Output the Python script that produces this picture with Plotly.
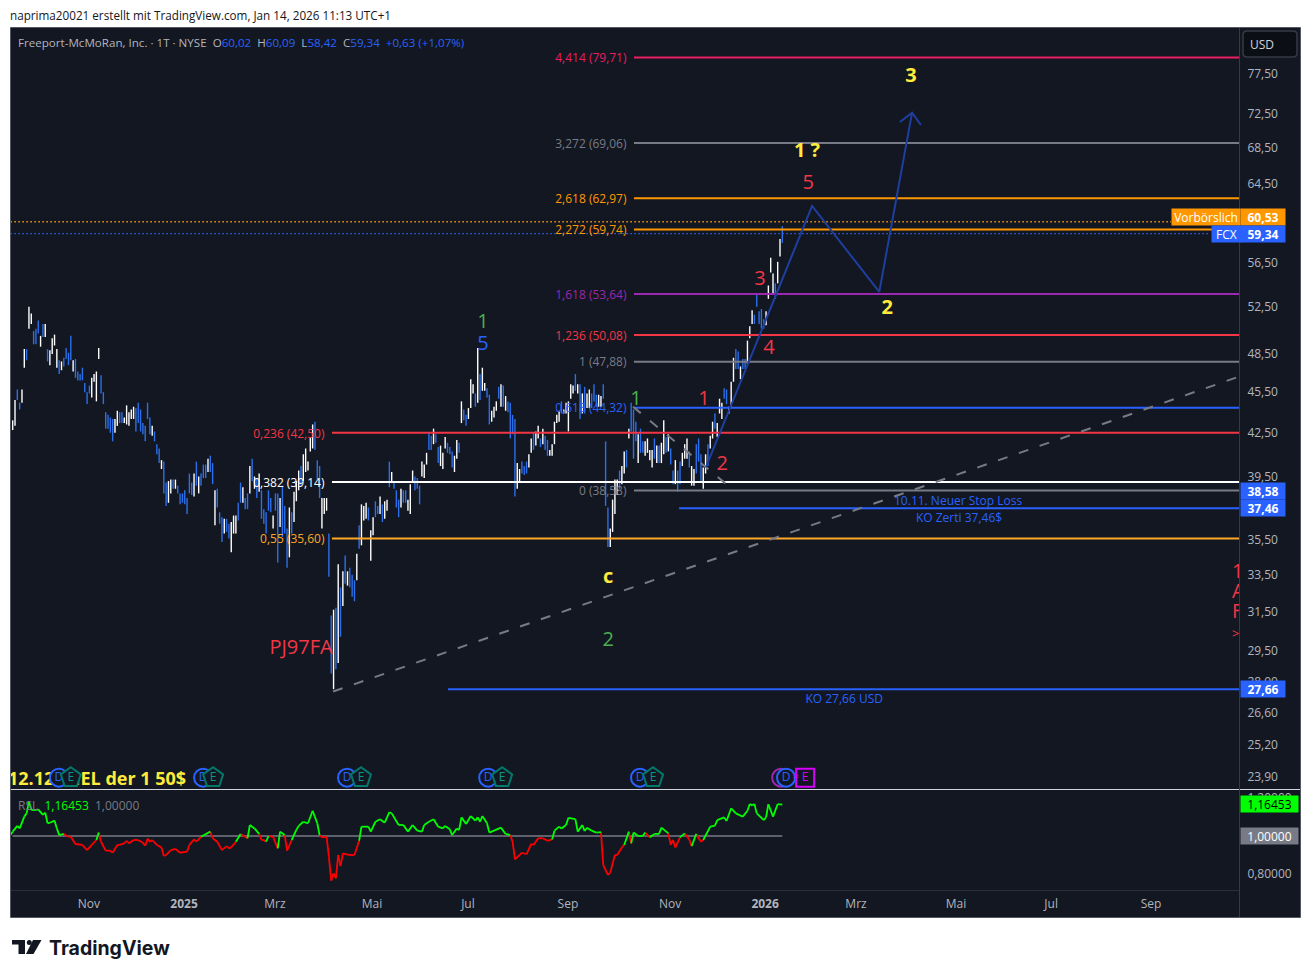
import math
import plotly.graph_objects as go

# ---------- daily bars (high / low / white=1, blue=0) ----------
bar_high = [
 43.4,44.9,45.7,44.7,45.7,48.9,48.9,52.5,51.9,50.4,
 50.6,51.3,50.0,51.0,51.0,48.9,48.8,49.8,50.1,48.9,
 48.0,47.9,48.2,49.0,48.6,50.0,48.0,48.1,47.1,46.9,
 47.4,46.2,45.5,46.0,46.6,46.9,47.1,49.0,46.8,45.5,
 44.0,43.8,43.6,43.5,43.5,44.1,44.0,44.0,43.6,44.5,
 44.0,44.2,44.4,44.3,44.7,44.2,43.2,43.0,44.7,43.6,
 43.0,42.6,41.7,41.4,40.6,40.5,39.1,39.2,39.3,39.3,
 39.3,38.9,38.4,38.4,38.6,38.1,39.7,39.1,39.7,40.5,
 39.5,39.7,40.3,40.3,40.7,40.9,40.4,38.6,38.7,37.2,
 36.9,36.8,36.8,36.5,36.6,37.0,37.0,37.8,39.1,38.8,
 38.1,38.4,40.2,40.7,39.5,39.4,39.7,38.6,37.4,37.2,
 38.6,38.1,37.0,38.4,38.4,38.1,38.9,37.6,36.2,37.5,
 37.2,38.5,39.2,39.9,40.2,41.0,41.4,40.5,42.2,43.1,
 43.3,40.6,40.2,38.1,38.1,38.1,35.9,
 31.3,31.6,31.7,34.1,32.8,33.7,34.6,33.7,33.9,33.5,33.2,34.7,
 36.4,37.7,37.6,37.8,37.5,36.1,36.9,37.9,37.6,38.2,
 37.7,37.9,38.0,40.5,39.8,39.1,38.6,38.0,38.7,38.6,
 38.6,38.0,39.0,39.9,39.5,39.4,38.9,40.5,40.3,41.1,
 42.5,42.3,42.8,42.4,41.5,41.6,41.1,42.2,41.8,41.5,
 41.2,40.9,42.0,41.8,44.8,44.2,43.8,44.3,46.5,46.1,
 45.4,49.0,46.9,47.4,46.2,45.8,45.3,44.1,44.4,44.8,
 45.9,46.1,46.0,45.2,44.8,44.7,43.8,43.5,40.4,40.0,
 40.5,40.2,40.5,41.0,42.1,42.5,42.6,43.0,42.1,42.8,
 42.3,42.0,41.3,41.7,43.3,43.8,44.1,44.8,44.2,44.7,
 44.8,46.1,46.0,46.9,46.1,46.1,45.4,45.9,45.4,45.7,45.4,
 46.1,45.3,45.3,45.2,46.1,
 41.9,37.5,36.2,38.0,39.3,39.3,39.9,40.2,41.2,41.3,
 42.8,44.7,44.2,43.3,42.4,42.8,41.9,41.9,42.1,41.3,
 41.3,42.1,41.6,41.6,41.8,43.4,42.2,42.4,41.4,39.9,
 40.6,39.9,40.5,41.1,41.7,42.1,41.2,40.2,40.0,41.7,42.1,
 41.0,40.1,41.0,41.7,42.3,43.3,43.9,43.2,45.0,44.7,
 45.8,45.7,44.4,46.3,48.2,48.9,48.7,47.5,48.1,48.1,
 49.6,50.8,52.2,51.8,53.6,52.1,52.3,51.4,52.1,54.4,
 57.0,55.5,54.6,56.6,58.8,60.09,
]
bar_low = [
 42.7,43.0,44.9,44.2,44.7,47.4,48.0,50.6,51.0,49.3,
 49.3,50.2,49.1,49.9,49.9,47.9,47.6,48.5,49.2,47.4,
 46.9,47.2,47.5,48.1,47.6,48.0,47.1,46.6,46.4,46.4,
 46.4,45.5,44.6,45.4,45.1,46.3,44.8,48.1,45.4,44.6,
 42.8,42.8,42.5,41.9,42.5,43.0,43.2,43.2,43.2,43.1,
 43.0,43.5,43.5,42.6,43.2,42.6,42.4,41.9,43.5,42.4,
 42.3,41.9,41.0,40.4,40.0,38.4,37.6,37.8,38.4,38.7,
 38.7,38.4,37.7,37.8,37.7,37.1,38.4,38.3,38.2,38.9,
 38.4,38.9,39.4,39.4,39.8,39.8,39.0,36.4,37.5,36.5,
 35.4,35.9,36.0,35.6,34.8,35.9,35.9,36.7,37.8,37.8,
 37.4,37.4,38.4,39.2,38.7,38.1,38.5,36.8,36.5,35.9,
 37.3,37.2,36.2,37.3,34.2,36.3,35.7,35.9,33.9,34.5,
 35.9,36.6,37.9,38.6,38.9,39.2,39.8,39.9,41.2,41.4,
 41.3,39.3,38.1,36.2,37.1,37.3,33.4,
 28.4,27.66,28.6,28.9,30.2,31.8,33.0,32.9,32.8,32.3,32.05,33.2,
 35.0,35.2,36.7,36.8,36.7,34.3,35.8,36.9,37.1,37.1,
 36.6,36.8,37.3,38.8,39.1,38.7,37.5,36.9,37.5,37.8,
 37.8,37.3,37.1,39.1,38.6,38.7,37.7,39.5,39.4,40.3,
 41.3,41.3,41.7,41.8,40.4,40.2,40.0,41.4,41.1,41.0,
 40.1,39.8,40.7,41.1,43.2,43.4,43.0,43.5,44.3,45.4,
 44.4,44.7,44.9,45.6,45.6,45.1,43.1,43.3,43.6,44.1,
 45.0,44.4,44.4,44.1,44.0,42.1,42.4,38.2,38.7,39.2,
 39.7,39.6,39.7,40.1,41.1,41.3,41.6,42.1,41.5,41.7,
 41.3,40.9,40.9,40.9,41.7,43.2,43.3,43.9,43.9,43.9,
 42.6,45.0,45.4,45.6,45.4,43.5,43.9,43.9,44.3,44.3,44.3,
 44.8,44.4,44.4,44.4,45.0,
 37.6,35.1,35.1,36.0,37.1,38.3,38.7,39.0,39.7,40.1,
 42.1,42.6,40.7,41.9,40.4,41.1,41.1,40.9,41.1,40.6,
 40.1,40.7,40.4,40.4,40.4,41.0,41.1,41.2,40.3,39.0,
 39.0,38.5,39.0,40.2,40.7,40.7,40.1,38.9,38.9,39.7,40.5,
 39.2,38.7,39.7,40.2,41.4,42.1,42.8,42.2,43.9,43.5,
 45.0,44.6,43.9,44.3,46.3,47.3,47.3,46.5,47.3,47.3,
 47.7,49.8,51.0,51.0,52.5,51.0,50.6,50.6,50.9,53.2,
 55.6,53.7,53.2,54.6,57.1,58.42,
]
bar_up = [
 1,1,0,0,1,1,0,1,1,0,
 0,0,1,0,1,0,1,1,1,1,
 0,1,0,0,0,0,1,0,0,0,
 0,0,0,0,1,1,1,1,0,0,
 0,0,0,0,1,1,0,0,1,1,
 1,1,1,0,0,0,0,0,0,0,
 1,0,0,0,1,0,0,1,1,0,
 1,0,0,0,0,0,0,0,1,0,
 1,0,0,0,1,0,0,1,0,0,
 0,1,0,0,1,1,1,0,0,1,
 0,0,1,0,1,0,1,0,0,0,
 0,0,1,0,0,1,0,0,0,1,
 0,1,1,1,0,1,1,1,1,1,
 0,0,0,1,1,1,0,
 0,1,0,1,0,1,0,1,0,0,0,1,
 0,1,1,1,0,1,1,0,0,1,
 0,1,1,0,1,0,0,0,1,0,
 0,1,1,1,0,0,0,1,1,1,
 0,0,1,0,0,1,1,1,0,0,
 0,1,1,0,1,0,0,1,1,1,
 0,1,0,1,1,0,0,1,1,1,
 0,1,0,1,0,0,0,0,1,1,
 0,0,0,1,1,0,1,1,0,1,
 0,0,1,1,1,1,1,0,1,1,
 1,1,1,0,1,0,1,0,1,1,0,
 0,0,1,1,0,
 0,0,1,1,1,1,0,1,1,0,
 1,0,0,0,1,0,0,1,1,1,
 1,0,1,0,1,1,0,1,0,0,
 1,0,0,1,1,1,0,1,1,0,0,
 0,1,1,0,1,1,0,1,1,1,
 0,0,1,1,1,0,0,1,0,0,
 1,1,1,0,0,0,0,0,1,1,
 1,1,0,1,1,0,
]
bar_index = list(range(len(bar_high)))

# ---------- RSL indicator ----------
rsl_bar = [-1,0,2,3,5,6,7,8,10,11,13,14,15,16,18,19,20,22,24,25,27,30,32,34,36,37,38,40,42,43,45,46,48,49,50,52,54,56,57,58,59,60,62,64,65,66,68,70,72,75,76,78,79,81,85,86,88,90,92,93,94,96,98,101,102,104,106,107,108,109,110,112,114,115,117,118,120,122,123,125,127,129,131,132,133,135,136,137,138,139,140,141,142,145,147,149,150,153,154,156,158,160,162,163,166,168,170,172,174,
 176,177,179,181,183,185,186,188,189,191,192,193,195,197,199,200,201,202,204,205,207,210,212,214,215,216,218,219,221,223,224,226,228,230,232,233,235,236,238,239,242,243,245,246,247,249,251,253,254,256,257,259,260,262,263,265,266,267,269,271,272,274,276,278,279,282,283,284,285,287,289,291,292,294,296,297,300,302,303,306,307,309,311,314,316,317,318,319,320,323,324,325,327,329,331]
rsl_value = [1.005,1.023,1.053,1.040,1.102,1.119,1.181,1.137,1.137,1.140,1.111,1.123,1.067,1.070,1.081,1.040,1.005,1.011,.996,.996,.958,.953,.926,.953,.979,1.018,.970,.923,.923,.912,.953,.953,.961,.975,.961,.979,.979,.965,.949,.986,.970,.979,.953,.940,.895,.900,.926,.932,.912,.918,.953,.982,.970,.996,1.023,.988,.970,.926,.947,.935,.940,.970,1.011,.988,1.058,1.040,1.011,.979,.979,.970,1.0,.996,.935,1.023,1.005,.923,.979,1.032,1.053,1.075,1.067,1.133,1.067,1.005,.993,.996,.891,.765,.804,.777,.900,.842,.909,.900,.900,.975,1.049,1.049,1.023,1.075,1.088,1.070,1.125,1.119,1.058,1.058,1.023,1.058,1.028,
 1.023,1.058,1.075,1.088,1.049,1.040,1.053,1.035,1.005,1.040,1.032,1.098,1.063,1.105,1.081,1.098,1.075,1.105,1.067,1.018,1.028,1.044,1.011,1.005,.970,.877,.900,.912,.904,.958,.953,.988,.988,.975,.982,1.028,1.049,1.040,1.058,1.096,1.089,1.023,1.058,1.026,1.044,1.028,1.018,1.021,.847,.795,.807,.900,.900,.940,.953,1.023,.961,1.018,1.0,1.0,1.018,.993,1.011,1.011,1.044,1.014,.953,.979,.939,.993,1.014,.982,.947,1.011,.970,.979,1.049,1.054,1.084,1.098,1.079,1.146,1.119,1.102,1.133,1.168,1.161,1.168,1.119,1.084,1.098,1.167,1.102,1.168,1.16453]

# ---------- Horizontal drawing levels ----------
level_name  = ["4,414 (79,71)","3,272 (69,06)","2,618 (62,97)","2,272 (59,74)","1,618 (53,64)","1,236 (50,08)","1 (47,88)","0,618 (44,32)","0,236 (42,50)","0,382 (39,14)","0,55 (35,60)","0 (38,58)"]
level_price = [79.71,69.06,62.97,59.74,53.64,50.08,47.88,44.32,42.50,39.14,35.60,38.58]
level_start = [267.2,267.2,267.2,267.2,267.2,267.2,267.2,267.2,137.3,137.3,137.3,267.2]
level_color = ["#e91e63","#787b86","#ff9800","#ff9800","#9c27b0","#f23645","#787b86","#2962ff","#f23645","#ffffff","#ffa726","#787b86"]
ko_price = [37.46,27.66]
ko_start = [286.6,187.2]
AXIS_END_BAR = 527.4

# Price / time ticks
price_ticks = [77.5,72.5,68.5,64.5,56.5,52.5,48.5,45.5,42.5,39.5,35.5,33.5,31.5,29.5,28.0,26.6,25.2,23.9]
price_tick_labels = ["77,50","72,50","68,50","64,50","56,50","52,50","48,50","45,50","42,50","39,50","35,50","33,50","31,50","29,50","28,00","26,60","25,20","23,90"]
time_ticks = [32.8,73.7,112.8,154.5,195.8,238.8,282.7,323.6,362.7,405.7,446.6,489.6]
time_tick_labels = ["Nov","<b>2025</b>","Mrz","Mai","Jul","Sep","Nov","<b>2026</b>","Mrz","Mai","Jul","Sep"]

# Wave path and trend lines
wave_bar = [298.2,343.8,372.7,386.8]
wave_price = [40.14,62.16,53.82,72.67]
arrow_bar = [381.6,386.8,390.6]
arrow_price = [71.55,72.67,71.19]
trend_bar = [137.8,527.4]
trend_price = [27.55,46.7]
trend2_bar = [266.8,307.7]
trend2_price = [44.4,38.9]

# Wave labels
wave_text = ["<b>3</b>","<b>1 ?</b>","5","3","4","1","2","1","<b>2</b>","1","5","<b>c</b>","2","PJ97FA"]
wave_text_bar = [386.3,341.6,342.1,321.4,325.3,297.3,305.1,268.1,376.1,202.3,202.3,256.1,256.1,124.0]
wave_text_price = [77.2,68.0,64.45,54.9,48.9,44.9,40.25,44.9,52.3,51.1,49.2,33.3,30.0,29.6]
wave_text_color = ["#ffeb3b","#ffeb3b","#f23645","#f23645","#f23645","#f23645","#f23645","#4caf50","#ffeb3b","#4caf50","#2962ff","#ffeb3b","#4caf50","#f23645"]

# Earnings / dividend markers
div_bars = [19.9,81.9,143.8,204.5,269.8,332.6]
earn_bars = [25,86.2,149.8,210.5,275.4]
earn_last_bar = [340.8]
BG = "#131722"

W, H = 1311, 978
L, R, T, B = 11, 1239, 28, 890
def px(x): return (x - L) / (R - L)
def py(y): return (B - y) / (B - T)

fig = go.Figure()

def bar_trace(flag, color):
    xs, ys = [], []
    for i, hi, lo, u in zip(bar_index, bar_high, bar_low, bar_up):
        if u == flag:
            xs += [i, i, None]
            ys += [lo, hi, None]
    fig.add_trace(go.Scatter(x=xs, y=ys, mode="lines", line=dict(color=color, width=1.4), hoverinfo="skip", yaxis="y"))
bar_trace(0, "#2b6fea")
bar_trace(1, "#ffffff")

# dotted last price lines
for val, end, col in [(60.53, 498.2, "#ff9800"), (59.34, 515, "#2962ff")]:
    fig.add_trace(go.Scatter(x=[-1, end], y=[val, val], mode="lines", line=dict(color=col, width=1.4, dash="1.5px,2.5px"), hoverinfo="skip"))

for p, s, c in zip(level_price, level_start, level_color):
    fig.add_trace(go.Scatter(x=[s, AXIS_END_BAR], y=[p, p], mode="lines", line=dict(color=c, width=2), hoverinfo="skip"))
for p, s in zip(ko_price, ko_start):
    fig.add_trace(go.Scatter(x=[s, AXIS_END_BAR], y=[p, p], mode="lines", line=dict(color="#2962ff", width=2), hoverinfo="skip"))

DASH = "10px,12px"
fig.add_trace(go.Scatter(x=trend_bar, y=trend_price, mode="lines", line=dict(color="#787b86", width=2, dash=DASH), hoverinfo="skip"))
fig.add_trace(go.Scatter(x=trend2_bar, y=trend2_price, mode="lines", line=dict(color="#787b86", width=2, dash=DASH), hoverinfo="skip"))
fig.add_trace(go.Scatter(x=wave_bar, y=wave_price, mode="lines", line=dict(color="#1e3f9e", width=2), hoverinfo="skip"))
fig.add_trace(go.Scatter(x=arrow_bar, y=arrow_price, mode="lines", line=dict(color="#1e3f9e", width=2), hoverinfo="skip"))

FONT = "Open Sans"
# level labels
fig.add_trace(go.Scatter(x=[s - 3.2 for s in level_start], y=[p * 0.9972 for p in level_price], mode="text", text=level_name,
    textposition="middle left", textfont=dict(family=FONT, size=12, color=level_color), hoverinfo="skip"))
# wave labels
fig.add_trace(go.Scatter(x=wave_text_bar, y=wave_text_price, mode="text", text=wave_text, textposition="middle center",
    textfont=dict(family=FONT, size=20, color=wave_text_color), hoverinfo="skip"))
# blue notes
fig.add_trace(go.Scatter(x=[406.6, 407, 357.6], y=[37.85, 36.8, 27.15], mode="text",
    text=["10.11. Neuer Stop Loss", "KO Zerti 37,46$", "KO 27,66 USD"], textposition="middle center",
    textfont=dict(family=FONT, size=12, color="#2962ff"), hoverinfo="skip"))
# clipped note at right border
fig.add_trace(go.Scatter(x=[524.4]*4, y=[33.6, 32.47, 31.4, 30.3], mode="text", text=["1", "A", "F", ">"], textposition="middle right",
    textfont=dict(family=FONT, size=[20,20,20,13], color="#f23645"), hoverinfo="skip"))
# yellow clipped note
fig.add_trace(go.Scatter(x=[74.6], y=[23.75], mode="text", text=["<b>12.12. ZIEL der 1 50$</b>"], textposition="middle left",
    textfont=dict(family=FONT, size=18, color="#ffeb3b"), hoverinfo="skip"))

# event markers
fig.add_trace(go.Scatter(x=[330.5], y=[23.85], mode="markers", marker=dict(symbol="circle", size=18, color=BG, line=dict(color="#9c27b0", width=2)), hoverinfo="skip"))
fig.add_trace(go.Scatter(x=div_bars, y=[23.85]*6, mode="markers+text", text=["D"]*6, textposition="middle center",
    marker=dict(symbol="circle", size=18, color=BG, line=dict(color="#2962ff", width=2)),
    textfont=dict(family=FONT, size=12, color="#2962ff"), hoverinfo="skip"))
fig.add_trace(go.Scatter(x=earn_bars, y=[23.85]*5, mode="markers+text", text=["E"]*5, textposition="middle center",
    marker=dict(symbol="pentagon", size=21, color=BG, line=dict(color="#00796b", width=2)),
    textfont=dict(family=FONT, size=12, color="#089981"), hoverinfo="skip"))
fig.add_trace(go.Scatter(x=earn_last_bar, y=[23.85], mode="markers+text", text=["E"], textposition="middle center",
    marker=dict(symbol="square", size=18, color=BG, line=dict(color="#d500f9", width=2)),
    textfont=dict(family=FONT, size=12, color="#d500f9"), hoverinfo="skip"))
fig.add_trace(go.Scatter(x=[336.6], y=[23.85], mode="text", text=["≈"], textposition="middle center",
    textfont=dict(family=FONT, size=11, color="#d500f9"), hoverinfo="skip"))

# RSL pane
rsl_end = bar_index[-1]
fig.add_trace(go.Scatter(x=[0, rsl_end], y=[1, 1], mode="lines", line=dict(color="#787b86", width=1.5), yaxis="y2", hoverinfo="skip"))
gx, gy, rx, ry = [], [], [], []
for k in range(len(rsl_bar) - 1):
    seg_x = [rsl_bar[k], rsl_bar[k + 1], None]
    seg_y = [rsl_value[k], rsl_value[k + 1], None]
    if rsl_value[k + 1] >= 1:
        gx += seg_x; gy += seg_y
    else:
        rx += seg_x; ry += seg_y
fig.add_trace(go.Scatter(x=rx, y=ry, mode="lines", line=dict(color="#ff0000", width=1.8), yaxis="y2", hoverinfo="skip"))
fig.add_trace(go.Scatter(x=gx, y=gy, mode="lines", line=dict(color="#00ff00", width=1.8), yaxis="y2", hoverinfo="skip"))

def rounded(x0, y0, x1, y1, r=4):
    X0, X1, Y0, Y1 = px(x0), px(x1), py(y0), py(y1)
    rx_, ry_ = r / (R - L), r / (B - T)
    return (f"M{X0+rx_},{Y0} L{X1-rx_},{Y0} Q{X1},{Y0} {X1},{Y0-ry_} L{X1},{Y1+ry_} Q{X1},{Y1} {X1-rx_},{Y1} "
            f"L{X0+rx_},{Y1} Q{X0},{Y1} {X0},{Y1+ry_} L{X0},{Y0-ry_} Q{X0},{Y0} {X0+rx_},{Y0} Z")

AX = "#b2b5be"
shapes = [
    dict(type="rect", xref="paper", yref="paper", x0=px(10.5), x1=px(1300.5), y0=py(917.5), y1=py(27.5), fillcolor=BG, line=dict(color="#555862", width=1), layer="below"),
    dict(type="line", xref="paper", yref="paper", x0=px(11), x1=px(1300), y0=py(789.5), y1=py(789.5), line=dict(color="#d1d4dc", width=1)),
    dict(type="line", xref="paper", yref="paper", x0=px(11), x1=px(1239), y0=py(890.5), y1=py(890.5), line=dict(color="#2a2e39", width=1)),
    dict(type="line", xref="paper", yref="paper", x0=px(1239.5), x1=px(1239.5), y0=py(917), y1=py(28), line=dict(color="#363a45", width=1)),
    # USD button
    dict(type="path", xref="paper", yref="paper", path=rounded(1243, 31, 1297, 57), fillcolor="#0c0e15", line=dict(color="#363a45", width=1.5)),
    # logo
    dict(type="path", xref="paper", yref="paper", fillcolor="#131722", line=dict(width=0),
         path=f"M{px(12)},{py(940)} H{px(25)} V{py(954)} H{px(18.5)} V{py(944.5)} H{px(12)} Z"),
    dict(type="path", xref="paper", yref="paper", fillcolor="#131722", line=dict(width=0),
         path=f"M{px(33)},{py(940)} H{px(41.5)} L{px(33.5)},{py(954)} H{px(26)} Z"),
    dict(type="circle", xref="paper", yref="paper", fillcolor="#131722", line=dict(width=0),
         x0=px(26.8), x1=px(31.8), y0=py(945), y1=py(940)),
]

def note(x, y, text, **kw):
    d = dict(xref="paper", yref="paper", x=px(x), y=py(y), text=text, showarrow=False, xanchor="left", yanchor="middle",
             font=dict(family=FONT, size=11.6, color="#b2b5be"), borderpad=0, borderwidth=0)
    d.update(kw)
    return d

def tag(y_px, text, color, x=1239.5, w=44, textcolor="#ffffff", bold=True):
    t = f"<b>{text}</b>" if bold else text
    return dict(xref="paper", yref="paper", x=px(x), y=py(y_px), text=t, showarrow=False, xanchor="left", yanchor="middle",
                width=w, height=16, align="center", bgcolor=color, font=dict(family=FONT, size=12, color=textcolor), borderpad=0)

B_ = "#2962ff"
legend = (f'Freeport-McMoRan, Inc. · 1T · NYSE  O<span style="color:{B_}">60,02</span>  H<span style="color:{B_}">60,09</span>'
          f'  L<span style="color:{B_}">58,42</span>  C<span style="color:{B_}">59,34</span>  <span style="color:{B_}">+0,63 (+1,07%)</span>')
annotations = [
    note(10, 15, "naprima20021 erstellt mit TradingView.com, Jan 14, 2026 11:13 UTC+1", font=dict(family=FONT, size=11.7, color="#131722")),
    note(18, 42, legend),
    note(18, 805, 'RSL  <span style="color:#00ff00">1,16453</span>  <span style="color:#787b86">1,00000</span>', font=dict(family=FONT, size=12, color="#787b86")),
    note(1262, 44, "USD", xanchor="center", font=dict(family=FONT, size=12, color="#d1d4dc")),
    note(49, 948, "<b>TradingView</b>", font=dict(family="Inter", size=19.5, color="#131722")),
    tag(217, "Vorbörslich", "#ff9800", x=1171, w=68, bold=False),
    tag(217, "60,53", "#ff9800"),
    tag(234, "FCX", "#2962ff", x=1210.5, w=29, bold=False),
    tag(234, "59,34", "#2962ff"),
    tag(491, "38,58", "#2962ff"),
    tag(508, "37,46", "#2962ff"),
    tag(689, "27,66", "#2962ff"),
    tag(804, "1,16453", "#00ff00", w=57, textcolor="#000000", bold=False),
    tag(836, "1,00000", "#787b86", w=57, bold=False),
]

fig.update_layout(
    width=W, height=H, autosize=False, showlegend=False,
    paper_bgcolor="#ffffff", plot_bgcolor=BG,
    margin=dict(l=L, r=W - R, t=T, b=H - B, pad=0),
    font=dict(family=FONT, size=12, color=AX),
    xaxis=dict(anchor="y2", range=[-0.72, AXIS_END_BAR], tickmode="array", tickvals=time_ticks, ticktext=time_tick_labels,
               showgrid=False, zeroline=False, showline=False, ticks="outside", ticklen=3, tickcolor=BG, tickfont=dict(family=FONT, size=12, color=AX)),
    yaxis=dict(type="log", side="right", anchor="x", domain=[py(789), 1], range=[math.log10(23.4), math.log10(83.75)],
               tickmode="array", tickvals=price_ticks, ticktext=price_tick_labels, showgrid=False, zeroline=False, showline=False,
               ticks="outside", ticklen=5, tickcolor=BG, tickfont=dict(family=FONT, size=12, color=AX)),
    yaxis2=dict(side="right", anchor="x", domain=[0, py(790)], range=[0.716, 1.242], tickmode="array", tickvals=[1.2, 0.8],
                ticktext=["1,20000", "0,80000"], showgrid=False, zeroline=False, showline=False, ticks="outside", ticklen=5, tickcolor=BG,
                tickfont=dict(family=FONT, size=12, color=AX)),
    shapes=shapes, annotations=annotations,
)
fig.write_html("out.html", config=dict(displayModeBar=False),
               post_script="document.body.style.margin='0';document.body.style.overflow='hidden';")
